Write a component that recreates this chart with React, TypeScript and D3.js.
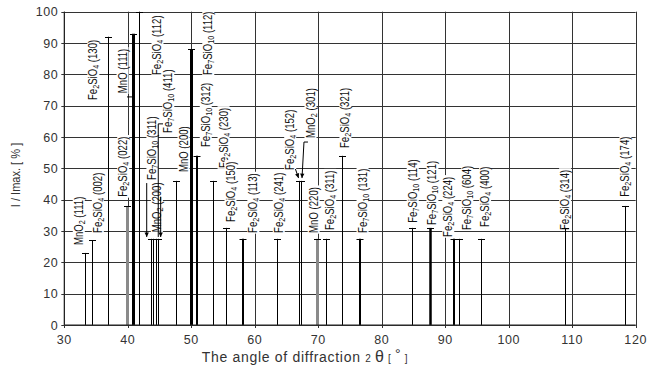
import React, { useEffect, useRef } from 'react';
import * as d3 from 'd3';

// diffraction lines: phase, plane, 2θ [°], I/Imax [%]
const phases = [
  'MnO2', 'Fe2SiO4', 'Fe2SiO4', 'Fe2SiO4', 'MnO', 'Fe2SiO4',
  'Fe7SiO10', '', 'MnO2', 'Fe7SiO10', 'MnO', 'Fe7SiO10', 'Fe7SiO10',
  'Fe2SiO4', 'Fe2SiO4', 'Fe2SiO4', 'Fe2SiO4', 'Fe2SiO4', 'MnO2', 'MnO',
  'Fe2SiO4', 'Fe2SiO4', 'Fe7SiO10', 'Fe7SiO10', 'Fe7SiO10', 'Fe2SiO4',
  'Fe7SiO10', 'Fe2SiO4', 'Fe2SiO4', 'Fe2SiO4'
];
const planes = [
  '(111)', '(002)', '(130)', '(022)', '(111)', '(112)',
  '(311)', '', '(200)', '(411)', '(200)', '(112)', '(312)',
  '(230)', '(150)', '(113)', '(241)', '(152)', '(301)', '(220)',
  '(311)', '(321)', '(131)', '(114)', '(121)', '(224)',
  '(604)', '(400)', '(314)', '(174)'
];
const twoTheta = [
  33.3, 34.3, 36.9, 39.8, 40.8, 41.8,
  43.6, 44.0, 44.4, 44.8, 47.6, 49.9, 50.85,
  53.4, 55.4, 58.2, 63.45, 66.9, 67.3, 69.75,
  71.2, 73.8, 76.6, 84.8, 87.6, 91.4,
  92.2, 95.7, 108.9, 118.3
];
const intensity = [
  23, 27, 92, 38, 93, 100,
  27.5, 27.5, 27.5, 27.5, 46, 88, 54,
  46, 31, 27.5, 27.5, 46, 46, 27.5,
  27.5, 54, 27.5, 31, 31, 27.5,
  27.5, 27.5, 31, 38
];

// where each rotated label starts (2θ, I)
const labelTheta = [
  32.2, 35.2, 34.5, 39.2, 39.1, 44.6,
  43.8, 0, 44.5, 46.3, 48.7, 52.6, 52.2,
  55.0, 56.1, 59.7, 63.7, 65.5, 68.7, 69.2,
  71.8, 74.2, 76.9, 84.8, 87.9, 90.4,
  93.4, 96.2, 108.8, 118.3
];
const labelI = [
  25.5, 29.4, 71.8, 40.9, 74, 79.8,
  46.3, 0, 29.6, 61.3, 48.8, 79.8, 56.8,
  50.1, 32.9, 29.4, 29.4, 49.5, 59.7, 29.4,
  30.3, 56.5, 29.4, 32.6, 31.9, 28.1,
  30.3, 31.3, 30.3, 40.9
];

// leader lines (2θ, I points), arrow = arrowhead at the end
const leaders: { pts: [number, number][]; arrow: boolean }[] = [
  { pts: [[39.88, 72.8], [40.66, 72.8]], arrow: false },
  { pts: [[42.98, 45.3], [42.98, 28.1]], arrow: true },
  { pts: [[45.18, 40.9], [45.18, 28.1]], arrow: true },
  { pts: [[45.55, 64.2], [44.8, 64.2], [44.8, 28.1]], arrow: false },
  { pts: [[66.4, 49.8], [66.9, 46.9]], arrow: true },
  { pts: [[68.38, 58.4], [67.75, 58.4], [67.44, 46.9]], arrow: true }
];

const xTicks = [30, 40, 50, 60, 70, 80, 90, 100, 110, 120];
const yTicks = [0, 10, 20, 30, 40, 50, 60, 70, 80, 90, 100];

// line weights by index
const heavy: Record<number, { w: number; c: string }> = {
  3: { w: 3, c: '#8a8a8a' },
  4: { w: 3, c: '#000' },
  11: { w: 3, c: '#000' },
  12: { w: 2, c: '#000' },
  15: { w: 2, c: '#000' },
  19: { w: 3, c: '#8a8a8a' },
  22: { w: 2, c: '#000' },
  24: { w: 2.5, c: '#000' },
  25: { w: 2, c: '#000' }
};

const W = 654;
const H = 369;
const sans = "'Liberation Sans', Arial, sans-serif";

export default function App() {
  const svgRef = useRef<SVGSVGElement>(null);

  useEffect(() => {
    document.body.style.margin = '0';
    if (!svgRef.current) return;
    const svg = d3.select(svgRef.current);
    svg.selectAll('*').remove();

    const x = d3.scaleLinear().domain([30, 120]).range([64.3, 635.7]);
    const y = d3.scaleLinear().domain([0, 100]).range([325, 11.7]);

    svg.append('rect').attr('width', W).attr('height', H).attr('fill', 'white');

    // grid
    const grid = svg.append('g').attr('stroke', '#333').attr('stroke-width', 1);
    xTicks.forEach(t => {
      grid.append('line')
        .attr('x1', Math.round(x(t)) + 0.5).attr('x2', Math.round(x(t)) + 0.5)
        .attr('y1', y(100)).attr('y2', y(0) + 3);
    });
    yTicks.forEach(t => {
      grid.append('line')
        .attr('x1', x(30) - 3).attr('x2', x(120))
        .attr('y1', Math.round(y(t)) + 0.5).attr('y2', Math.round(y(t)) + 0.5);
    });

    // tick labels
    svg.append('g').selectAll('text').data(yTicks).enter().append('text')
      .attr('x', x(30) - 6).attr('y', d => y(d) + 4.5)
      .attr('text-anchor', 'end')
      .style('font-family', sans).style('font-size', '12.5px')
      .style('letter-spacing', '0.6px').style('fill', '#333')
      .text(d => d);
    svg.append('g').selectAll('text').data(xTicks).enter().append('text')
      .attr('x', d => x(d)).attr('y', 344)
      .attr('text-anchor', 'middle')
      .style('font-family', sans).style('font-size', '12.5px')
      .style('letter-spacing', '0.6px').style('fill', '#333')
      .text(d => d);

    // axis titles
    const xt = svg.append('text')
      .attr('x', 305).attr('y', 362).attr('text-anchor', 'middle')
      .style('font-family', sans).style('font-size', '14px')
      .style('letter-spacing', '0.7px').style('fill', '#333');
    xt.append('tspan').text('The angle of diffraction  ');
    xt.append('tspan').style('font-size', '10px').text('2 ');
    xt.append('tspan').style('font-size', '16px').text('θ');
    xt.append('tspan').style('font-size', '10px').text(' [   ');
    xt.append('tspan').style('font-size', '14px').attr('dy', -3).text('°');
    xt.append('tspan').style('font-size', '10px').attr('dy', 3).text('   ]');

    svg.append('text')
      .attr('transform', `translate(20, 175) rotate(-90) scale(0.85, 1)`)
      .attr('text-anchor', 'middle')
      .style('font-family', sans).style('font-size', '13px').style('fill', '#333')
      .text('I / Imax. [ % ]');

    // labels with white boxes
    const lab = svg.append('g');
    phases.forEach((p, i) => {
      if (!p) return;
      const g = lab.append('g')
        .attr('transform', `translate(${x(labelTheta[i])}, ${y(labelI[i])}) rotate(-90) scale(0.8, 1)`);
      const box = g.append('rect').attr('fill', 'white');
      const t = g.append('text').attr('x', 0).attr('y', 4.5)
        .style('font-family', sans).style('font-size', '12px').style('fill', '#111');
      const parts = p.match(/[A-Za-z]+|\d+/g) || [];
      let sub = false;
      parts.forEach(s => {
        const isNum = /\d/.test(s);
        const ts = t.append('tspan').text(s);
        if (isNum && !sub) { ts.attr('dy', 2).style('font-size', '9px'); sub = true; }
        else if (!isNum && sub) { ts.attr('dy', -2); sub = false; }
        else if (isNum) ts.style('font-size', '9px');
      });
      const last = t.append('tspan').text(' ' + planes[i]);
      if (sub) last.attr('dy', -2);
      const len = (t.node() as SVGTextElement).getComputedTextLength();
      box.attr('x', -1).attr('y', -5.5).attr('width', len + 3).attr('height', 12);
    });

    // peaks
    const pk = svg.append('g');
    twoTheta.forEach((t, i) => {
      const st = heavy[i] || { w: 1, c: '#000' };
      const px = Math.round(x(t)) + (st.w % 2 ? 0.5 : 0);
      pk.append('line')
        .attr('x1', px).attr('x2', px)
        .attr('y1', y(0)).attr('y2', y(intensity[i]))
        .attr('stroke', st.c).attr('stroke-width', st.w);
      pk.append('line')
        .attr('x1', px - 3.5).attr('x2', px + 3.5)
        .attr('y1', Math.round(y(intensity[i])) + 0.5).attr('y2', Math.round(y(intensity[i])) + 0.5)
        .attr('stroke', '#000').attr('stroke-width', 1);
    });

    // leaders
    const ld = svg.append('g').attr('stroke', '#000').attr('fill', 'none').attr('stroke-width', 1);
    leaders.forEach(l => {
      const pts = l.pts.map(([a, b]) => [x(a), y(b)] as [number, number]);
      ld.append('path').attr('d', d3.line()(pts));
      if (l.arrow) {
        const [x1, y1] = pts[pts.length - 2];
        const [x2, y2] = pts[pts.length - 1];
        const ang = Math.atan2(y2 - y1, x2 - x1);
        const a = 5, s = 0.45;
        const p1 = [x2 - a * Math.cos(ang - s), y2 - a * Math.sin(ang - s)];
        const p2 = [x2 - a * Math.cos(ang + s), y2 - a * Math.sin(ang + s)];
        svg.append('path')
          .attr('d', `M${p1[0]},${p1[1]}L${x2},${y2}L${p2[0]},${p2[1]}Z`)
          .attr('fill', '#000');
      }
    });

    // axes
    svg.append('line').attr('x1', x(30)).attr('x2', x(30)).attr('y1', y(100)).attr('y2', y(0))
      .attr('stroke', '#222').attr('stroke-width', 1.2);
    svg.append('line').attr('x1', x(30)).attr('x2', x(120)).attr('y1', y(0)).attr('y2', y(0))
      .attr('stroke', '#222').attr('stroke-width', 1.2);
  }, []);

  return <svg ref={svgRef} width={W} height={H} style={{ display: 'block' }} />;
}
